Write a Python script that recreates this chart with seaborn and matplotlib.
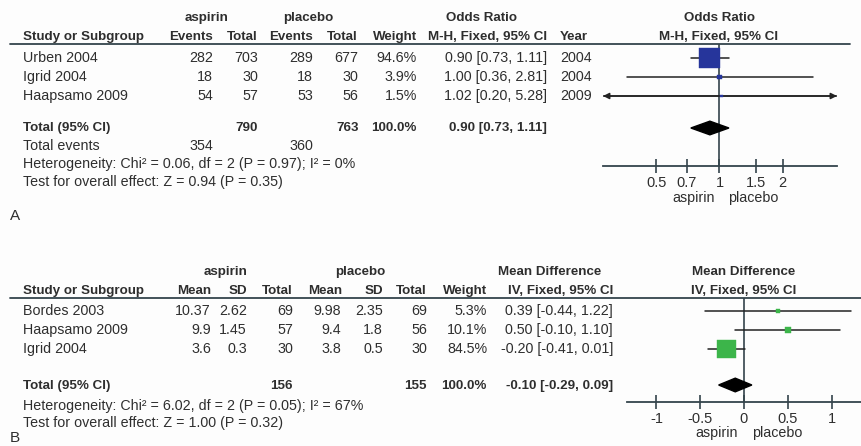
import numpy as np
import pandas as pd
import seaborn as sns
import matplotlib.pyplot as plt
from matplotlib.lines import Line2D
from matplotlib.ticker import NullLocator

# ---- panel A : odds ratio (events) ----
or_studies = ['Urben 2004', 'Igrid 2004', 'Haapsamo 2009']
or_asp_events = [282, 18, 54]
or_asp_total = [703, 30, 57]
or_pla_events = [289, 18, 53]
or_pla_total = [677, 30, 56]
or_weight = [94.6, 3.9, 1.5]
or_est = [0.90, 1.00, 1.02]
or_lo = [0.73, 0.36, 0.20]
or_hi = [1.11, 2.81, 5.28]
or_year = [2004, 2004, 2009]
or_total = [0.90, 0.73, 1.11]   # estimate, low, high
or_n_total = [790, 763]
or_events_total = [354, 360]
or_ticks = [0.5, 0.7, 1, 1.5, 2]
or_het = 'Heterogeneity: Chi² = 0.06, df = 2 (P = 0.97); I² = 0%'
or_test = 'Test for overall effect: Z = 0.94 (P = 0.35)'

# ---- panel B : mean difference ----
md_studies = ['Bordes 2003', 'Haapsamo 2009', 'Igrid 2004']
md_asp_mean = [10.37, 9.9, 3.6]
md_asp_sd = [2.62, 1.45, 0.3]
md_asp_n = [69, 57, 30]
md_pla_mean = [9.98, 9.4, 3.8]
md_pla_sd = [2.35, 1.8, 0.5]
md_pla_n = [69, 56, 30]
md_weight = [5.3, 10.1, 84.5]
md_est = [0.39, 0.50, -0.20]
md_lo = [-0.44, -0.10, -0.41]
md_hi = [1.22, 1.10, 0.01]
md_total = [-0.10, -0.29, 0.09]
md_n_total = [156, 155]
md_ticks = [-1, -0.5, 0, 0.5, 1]
md_het = 'Heterogeneity: Chi² = 6.02, df = 2 (P = 0.05); I² = 67%'
md_test = 'Test for overall effect: Z = 1.00 (P = 0.32)'

sns.set_style('white')
plt.rcParams['font.family'] = ['Liberation Sans', 'DejaVu Sans']

W, H = 861, 446
TXT = '#2e2e2e'
LINE = '#34444c'
ROW = 19  # pixel height of one study row

fig = plt.figure(figsize=(W / 100, H / 100), dpi=100)
fig.patch.set_facecolor('#fdfdfd')


def txt(x, y, s, ha='left', bold=False, size=None):
    if size is None:
        size = 9.6 if bold else 10.3
    fig.text(x / W, 1 - y / H, s, ha=ha, va='center', fontsize=size,
             fontweight='bold' if bold else 'normal', color=TXT)


def hline(x0, x1, y):
    fig.add_artist(Line2D([x0 / W, x1 / W], [1 - y / H] * 2, color=LINE, lw=1.3))


def forest(x0, x1, ytop, yrow0, ytot, yaxis, xlim, log, est, lo, hi, weight,
           total, color, k, ticks, null):
    ax = fig.add_axes([x0 / W, 1 - yaxis / H, (x1 - x0) / W, (yaxis - ytop) / H])
    ax.patch.set_alpha(0)
    if log:
        ax.set_xscale('log')
    rows = np.arange(len(est))
    for r, l, h in zip(rows, lo, hi):
        ll, hh = max(l, xlim[0]), min(h, xlim[1])
        ax.plot([ll, hh], [r, r], color='#222222', lw=1.1, zorder=2)
        arrow = dict(arrowstyle='-|>', color='#222222', lw=1.1, mutation_scale=9,
                     shrinkA=0, shrinkB=0)
        if l < xlim[0]:
            ax.annotate('', xy=(xlim[0], r), xytext=(est[r], r), arrowprops=arrow)
        if h > xlim[1]:
            ax.annotate('', xy=(xlim[1], r), xytext=(est[r], r), arrowprops=arrow)
    df = pd.DataFrame({'est': est, 'row': rows, 'weight': weight})
    sns.scatterplot(data=df, x='est', y='row', size='weight',
                    sizes=(k * min(weight), k * max(weight)), marker='s',
                    color=color, edgecolor=color, linewidth=0.3, legend=False,
                    ax=ax, zorder=3)
    ty = (ytot - yrow0) / ROW
    hd = 0.36
    te, tl, th = total
    ax.fill([tl, te, th, te], [ty, ty - hd, ty, ty + hd], color='black', zorder=3)
    ax.axvline(null, color=LINE, lw=1.2, zorder=1)
    ax.set_xlim(*xlim)
    ax.set_ylim((yaxis - yrow0) / ROW, (ytop - yrow0) / ROW)
    ax.set_xlabel('')
    ax.set_ylabel('')
    ax.set_yticks([])
    ax.set_xticks(ticks)
    ax.set_xticklabels([f'{t:g}' for t in ticks])
    ax.xaxis.set_minor_locator(NullLocator())
    ax.tick_params(axis='x', bottom=True, direction='inout', length=10, width=1.2,
                   pad=2, labelsize=10.5, color=LINE, labelcolor=TXT)
    for side in ['top', 'left', 'right']:
        ax.spines[side].set_visible(False)
    ax.spines['bottom'].set_color(LINE)
    ax.spines['bottom'].set_linewidth(1.3)
    return ax


# ================= panel A =================
txt(207, 18, 'aspirin', 'center', True)
txt(308, 18, 'placebo', 'center', True)
txt(482, 18, 'Odds Ratio', 'center', True)
txt(719, 18, 'Odds Ratio', 'center', True)
txt(23, 37, 'Study or Subgroup', bold=True)
for x, s in [(213, 'Events'), (258, 'Total'), (313, 'Events'), (358, 'Total'),
             (417, 'Weight'), (547, 'M-H, Fixed, 95% CI')]:
    txt(x, 37, s, 'right', True)
txt(560, 37, 'Year', bold=True)
txt(719, 37, 'M-H, Fixed, 95% CI', 'center', True)
hline(10, 850, 44)

for i, name in enumerate(or_studies):
    y = 58 + i * ROW
    txt(23, y, name)
    txt(213, y, str(or_asp_events[i]), 'right')
    txt(258, y, str(or_asp_total[i]), 'right')
    txt(313, y, str(or_pla_events[i]), 'right')
    txt(358, y, str(or_pla_total[i]), 'right')
    txt(417, y, f'{or_weight[i]:.1f}%', 'right')
    txt(547, y, f'{or_est[i]:.2f} [{or_lo[i]:.2f}, {or_hi[i]:.2f}]', 'right')
    txt(560, y, str(or_year[i]))

txt(23, 128, 'Total (95% CI)', bold=True)
txt(258, 128, str(or_n_total[0]), 'right', True)
txt(359, 128, str(or_n_total[1]), 'right', True)
txt(417, 128, '100.0%', 'right', True)
txt(547, 128, f'{or_total[0]:.2f} [{or_total[1]:.2f}, {or_total[2]:.2f}]', 'right', True)
txt(23, 146, 'Total events')
txt(213, 146, str(or_events_total[0]), 'right')
txt(313, 146, str(or_events_total[1]), 'right')
txt(23, 164, or_het)
txt(23, 182, or_test)
txt(10, 216, 'A', size=11)

forest(603, 837, 44, 58, 128, 166, (0.278, 3.64), True, or_est, or_lo, or_hi,
       or_weight, or_total, '#26359b', 2.4, or_ticks, 1)
txt(715, 198, 'aspirin', 'right')
txt(728, 198, 'placebo')

# ================= panel B =================
txt(226, 272, 'aspirin', 'center', True)
txt(360, 272, 'placebo', 'center', True)
txt(550, 272, 'Mean Difference', 'center', True)
txt(744, 272, 'Mean Difference', 'center', True)
txt(23, 291, 'Study or Subgroup', bold=True)
for x, s in [(211, 'Mean'), (247, 'SD'), (293, 'Total'), (342, 'Mean'), (383, 'SD'),
             (427, 'Total'), (487, 'Weight'), (613, 'IV, Fixed, 95% CI')]:
    txt(x, 291, s, 'right', True)
txt(744, 291, 'IV, Fixed, 95% CI', 'center', True)
hline(10, 861, 298)

for i, name in enumerate(md_studies):
    y = 311 + i * ROW
    txt(23, y, name)
    txt(211, y, f'{md_asp_mean[i]:g}', 'right')
    txt(247, y, f'{md_asp_sd[i]:g}', 'right')
    txt(293, y, str(md_asp_n[i]), 'right')
    txt(341, y, f'{md_pla_mean[i]:g}', 'right')
    txt(383, y, f'{md_pla_sd[i]:g}', 'right')
    txt(427, y, str(md_pla_n[i]), 'right')
    txt(487, y, f'{md_weight[i]:.1f}%', 'right')
    txt(613, y, f'{md_est[i]:.2f} [{md_lo[i]:.2f}, {md_hi[i]:.2f}]', 'right')

txt(23, 386, 'Total (95% CI)', bold=True)
txt(293, 386, str(md_n_total[0]), 'right', True)
txt(427, 386, str(md_n_total[1]), 'right', True)
txt(486, 386, '100.0%', 'right', True)
txt(613, 386, f'{md_total[0]:.2f} [{md_total[1]:.2f}, {md_total[2]:.2f}]', 'right', True)
txt(23, 406, md_het)
txt(23, 423, md_test)
txt(10, 438, 'B', size=11)

forest(627, 861, 298, 311, 385, 402, (-1.337, 1.337), False, md_est, md_lo, md_hi,
       md_weight, md_total, '#3cb54a', 2.0, md_ticks, 0)
txt(738, 433, 'aspirin', 'right')
txt(752, 433, 'placebo')

fig.savefig('out.png', dpi=100, facecolor=fig.get_facecolor())
